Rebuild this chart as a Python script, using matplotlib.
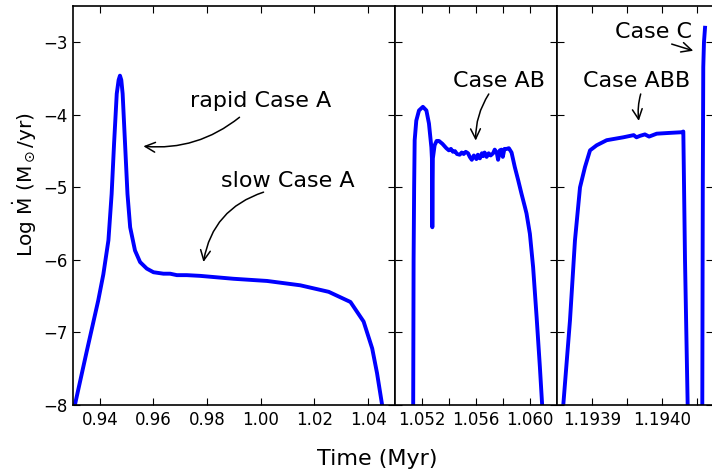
import matplotlib
matplotlib.use('Agg')
import matplotlib.pyplot as plt

plt.rcParams['font.family'] = ['DejaVu Sans']
plt.rcParams['mathtext.fontset'] = 'dejavusans'
plt.rcParams['mathtext.default'] = 'regular'

# ---------------- data ----------------
# Panel 1: Case A (time in Myr, log mass-transfer rate)
t_caseA = [0.9307, 0.9350, 0.9394, 0.9413, 0.9432, 0.9444, 0.9453, 0.9463, 0.9470,
           0.9475, 0.9480, 0.9485, 0.9494, 0.9503, 0.9513, 0.9531, 0.9550, 0.9575,
           0.9600, 0.9637, 0.9662, 0.9687, 0.9724, 0.9774, 0.9898, 1.0023, 1.0147,
           1.0253, 1.0334, 1.0383, 1.0415, 1.0433, 1.0452]
logmdot_caseA = [-8.0, -7.28, -6.56, -6.20, -5.73, -5.09, -4.40, -3.71, -3.52,
                 -3.46, -3.52, -3.71, -4.40, -5.09, -5.55, -5.87, -6.03, -6.12,
                 -6.17, -6.19, -6.19, -6.21, -6.21, -6.22, -6.26, -6.29, -6.35,
                 -6.44, -6.58, -6.85, -7.22, -7.56, -8.0]

# Panel 2: Case AB
t_caseAB = [1.05135, 1.05138, 1.05142, 1.05146, 1.05158, 1.05178, 1.05207, 1.05233,
            1.05252, 1.05270, 1.05274, 1.05277, 1.05281, 1.05294, 1.05309, 1.05326,
            1.05352, 1.05381, 1.05400, 1.05415, 1.05430, 1.05445, 1.05460, 1.05480,
            1.05495, 1.05510, 1.05525, 1.05542, 1.05555, 1.05570, 1.05585, 1.05604,
            1.05615, 1.05630, 1.05645, 1.05654, 1.05665, 1.05680, 1.05695, 1.05710,
            1.05728, 1.05740, 1.05755, 1.05765, 1.05778, 1.05790, 1.05800, 1.05812,
            1.05828, 1.05845, 1.05865, 1.05889, 1.05914, 1.05939, 1.05964, 1.05976,
            1.06001, 1.06025, 1.06051, 1.06075, 1.06092]
logmdot_caseAB = [-8.0, -6.0, -5.0, -4.35, -4.08, -3.94, -3.89, -3.94,
                  -4.12, -4.45, -4.60, -5.55, -4.60, -4.42, -4.36, -4.36,
                  -4.40, -4.46, -4.49, -4.47, -4.51, -4.50, -4.54, -4.55,
                  -4.52, -4.54, -4.51, -4.53, -4.58, -4.62, -4.56, -4.61,
                  -4.55, -4.60, -4.53, -4.57, -4.52, -4.58, -4.53, -4.56,
                  -4.53, -4.48, -4.52, -4.62, -4.49, -4.48, -4.58, -4.47,
                  -4.47, -4.46, -4.52, -4.72, -4.90, -5.09, -5.27, -5.36,
                  -5.64, -6.10, -6.79, -7.47, -8.0]

# Panel 3: Case ABB and Case C
t_caseABB = [1.1938594, 1.1938690, 1.1938761, 1.1938833, 1.1938904, 1.1938976,
             1.1939071, 1.1939214, 1.1939451, 1.1939600, 1.1939640, 1.1939690,
             1.1939760, 1.1939820, 1.1939929, 1.1940100, 1.1940286, 1.1940309,
             1.1940333, 1.1940371]
logmdot_caseABB = [-8.0, -6.83, -5.73, -5.0, -4.72, -4.49,
                   -4.42, -4.35, -4.31, -4.28, -4.31, -4.29,
                   -4.27, -4.30, -4.26, -4.25, -4.24, -4.23,
                   -6.0, -8.0]
t_caseC = [1.1940580, 1.1940587, 1.1940594, 1.1940604, 1.1940619]
logmdot_caseC = [-8.0, -5.0, -3.34, -3.0, -2.80]

# ticks
yticks = [-8, -7, -6, -5, -4, -3]
xticks1 = [0.94, 0.96, 0.98, 1.00, 1.02, 1.04]
xlabels1 = ['0.94', '0.96', '0.98', '1.00', '1.02', '1.04']
xticks2 = [1.052, 1.054, 1.056, 1.058, 1.060]
xlabels2 = ['1.052', '', '1.056', '', '1.060']
xticks3 = [1.1939, 1.19395, 1.1940, 1.19405]
xlabels3 = ['1.1939', '', '1.1940', '']

# ---------------- figure ----------------
W, H = 712, 472
fig = plt.figure(figsize=(W / 100, H / 100), dpi=100)


def px_axes(x0, x1, y0=6, y1=405):
    return fig.add_axes([x0 / W, 1 - y1 / H, (x1 - x0) / W, (y1 - y0) / H])


ax1 = px_axes(73, 395)
ax2 = px_axes(395, 556.7)
ax3 = px_axes(556.7, 713)

blue = '#0000ff'
lw = 2.8
ax1.plot(t_caseA, logmdot_caseA, color=blue, lw=lw, solid_joinstyle='round')
ax2.plot(t_caseAB, logmdot_caseAB, color=blue, lw=lw, solid_joinstyle='round')
ax3.plot(t_caseABB, logmdot_caseABB, color=blue, lw=lw, solid_joinstyle='round')
ax3.plot(t_caseC, logmdot_caseC, color=blue, lw=lw, solid_joinstyle='round')

ax1.set_xlim(0.93, 1.05)
ax2.set_xlim(1.050, 1.062)
ax3.set_xlim(1.19385, 1.1940733)

for ax, xt, xl in [(ax1, xticks1, xlabels1), (ax2, xticks2, xlabels2), (ax3, xticks3, xlabels3)]:
    ax.set_ylim(-8, -2.5)
    ax.set_yticks(yticks)
    ax.set_xticks(xt)
    ax.set_xticklabels(xl)
    ax.tick_params(direction='in', length=5, width=0.8, top=True, right=True,
                   labelsize=12, pad=4)
    for s in ax.spines.values():
        s.set_linewidth(1.2)
ax2.tick_params(labelleft=False)
ax3.tick_params(labelleft=False)

arrow_kw = dict(arrowstyle='->,head_length=0.45,head_width=0.22', color='black',
                lw=1.1, shrinkA=0, shrinkB=0, mutation_scale=16)

# annotations
ax1.text(0.99978, -3.805, 'rapid Case A', fontsize=16, ha='center', va='center')
ax1.annotate('', xy=(0.95623, -4.433), xytext=(0.99205, -4.034),
             arrowprops=dict(connectionstyle='arc3,rad=-0.2', **arrow_kw))
ax1.text(1.01022, -4.919, 'slow Case A', fontsize=16, ha='center', va='center')
ax1.annotate('', xy=(0.97862, -6.029), xytext=(1.00101, -5.066),
             arrowprops=dict(connectionstyle='arc3,rad=0.3', **arrow_kw))

ax2.text(1.05775, -3.530, 'Case AB', fontsize=16, ha='center', va='center')
ax2.annotate('', xy=(1.05599, -4.355), xytext=(1.05696, -3.713),
             arrowprops=dict(connectionstyle='arc3,rad=0.15', **arrow_kw))

ax3.text(1.1939643, -3.530, 'Case ABB', fontsize=16, ha='center', va='center')
ax3.annotate('', xy=(1.1939673, -4.084), xytext=(1.1939700, -3.713),
             arrowprops=dict(connectionstyle='arc3,rad=0.1', **arrow_kw))
ax3.text(1.1939890, -2.856, 'Case C', fontsize=16, ha='center', va='center')
ax3.annotate('', xy=(1.1940451, -3.117), xytext=(1.1940143, -3.025),
             arrowprops=dict(connectionstyle='arc3,rad=0.0', **arrow_kw))

fig.text(377 / W, 1 - 459 / H, 'Time (Myr)', fontsize=16, ha='center', va='center')
fig.text(25 / W, 1 - 185 / H, r'Log $\dot{M}$ (M$_\odot$/yr)', fontsize=14.5,
         rotation=90, ha='center', va='center')

fig.savefig('out.png', dpi=100)
